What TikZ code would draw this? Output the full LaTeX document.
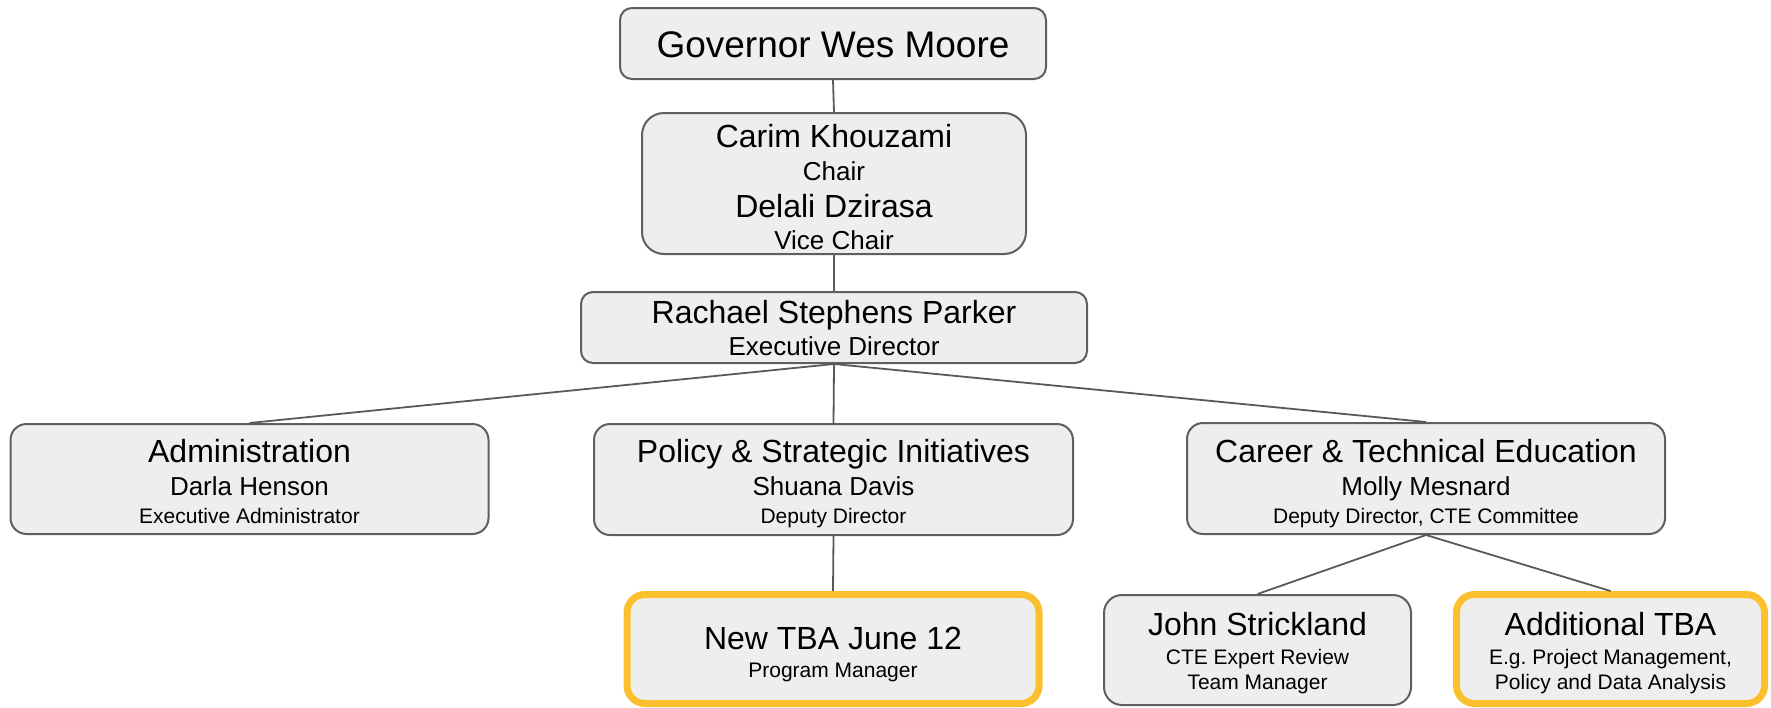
\documentclass[tikz,border=0pt]{standalone}
\usepackage{fontspec}
\setmainfont{Liberation Sans}
\definecolor{boxfill}{HTML}{EEEEEE}
\definecolor{bordergray}{HTML}{5F5F5F}
\definecolor{linegray}{HTML}{595959}
\definecolor{tbaorange}{HTML}{FBC02D}
\newcommand{\fsA}{\fontsize{37}{44}\selectfont}
\newcommand{\fsB}{\fontsize{32}{38}\selectfont}
\newcommand{\fsC}{\fontsize{26}{31}\selectfont}
\newcommand{\fsD}{\fontsize{21}{25}\selectfont}
\begin{document}
\begin{tikzpicture}[x=1pt,y=-1pt,
  box/.style={draw=bordergray, line width=2pt, fill=boxfill, rectangle, inner sep=0pt, rounded corners=#1},
  box/.default=15pt,
  tbabox/.style={draw=tbaorange, line width=7pt, fill=boxfill, rectangle, inner sep=0pt, rounded corners=18pt},
  txt/.style={anchor=base, inner sep=0pt, text=black},
  link/.style={draw=linegray, line width=1.8pt}]
\useasboundingbox (0,0) rectangle (1771,707);

% boxes
\node[box=12pt, minimum width=426pt, minimum height=71pt] (gov) at (833,43.5) {};
\node[box=22pt, minimum width=384pt, minimum height=141pt] (chair) at (834,183.5) {};
\node[box=12pt, minimum width=506pt, minimum height=71pt] (ed) at (834,327.5) {};
\node[box=16pt, minimum width=478pt, minimum height=110pt] (admin) at (249.5,479) {};
\node[box=16pt, minimum width=479pt, minimum height=111pt] (policy) at (833.5,479.5) {};
\node[box=16pt, minimum width=478pt, minimum height=111pt] (cte) at (1426,478.5) {};
\node[tbabox, minimum width=412pt, minimum height=109pt] (newtba) at (833,649) {};
\node[box=18pt, minimum width=307pt, minimum height=110pt] (john) at (1257.5,650) {};
\node[tbabox, minimum width=308pt, minimum height=109pt] (addtba) at (1610.5,649) {};

% connectors
\draw[link] (gov.south) -- (chair.north);
\draw[link] (chair.south) -- (ed.north);
\draw[link] (ed.south) -- (admin.north);
\draw[link] (ed.south) -- (policy.north);
\draw[link] (ed.south) -- (cte.north);
\draw[link] (policy.south) -- (newtba.north);
\draw[link] (cte.south) -- (john.north);
\draw[link] (cte.south) -- (addtba.north);

% texts
\node[txt] (gov-a) at (833,57) {\fsA Governor Wes Moore};

\node[txt] (chair-a) at (834,147) {\fsB Carim Khouzami};
\node[txt] (chair-b) at (834,180) {\fsC Chair};
\node[txt] (chair-c) at (834,217) {\fsB Delali Dzirasa};
\node[txt] (chair-d) at (834,249) {\fsC Vice Chair};

\node[txt] (ed-a) at (834,323) {\fsB Rachael Stephens Parker};
\node[txt] (ed-b) at (834,355) {\fsC Executive Director};

\node[txt] (admin-a) at (249.5,462) {\fsB Administration};
\node[txt] (admin-b) at (249.5,495) {\fsC Darla Henson};
\node[txt] (admin-c) at (249.5,523) {\fsD Executive Administrator};

\node[txt] (policy-a) at (833.5,462) {\fsB Policy \& Strategic Initiatives};
\node[txt] (policy-b) at (833.5,495) {\fsC Shuana Davis};
\node[txt] (policy-c) at (833.5,523) {\fsD Deputy Director};

\node[txt] (cte-a) at (1426,462) {\fsB Career \& Technical Education};
\node[txt] (cte-b) at (1426,495) {\fsC Molly Mesnard};
\node[txt] (cte-c) at (1426,523) {\fsD Deputy Director, CTE Committee};

\node[txt] (newtba-a) at (833,649) {\fsB New TBA June 12};
\node[txt] (newtba-b) at (833,677) {\fsD Program Manager};

\node[txt] (john-a) at (1257.5,635) {\fsB John Strickland};
\node[txt] (john-b) at (1257.5,664) {\fsD CTE Expert Review};
\node[txt] (john-c) at (1257.5,689) {\fsD Team Manager};

\node[txt] (addtba-a) at (1610.5,635) {\fsB Additional TBA};
\node[txt] (addtba-b) at (1610.5,664) {\fsD E.g.\ Project Management,};
\node[txt] (addtba-c) at (1610.5,689) {\fsD Policy and Data Analysis};
\end{tikzpicture}
\end{document}
